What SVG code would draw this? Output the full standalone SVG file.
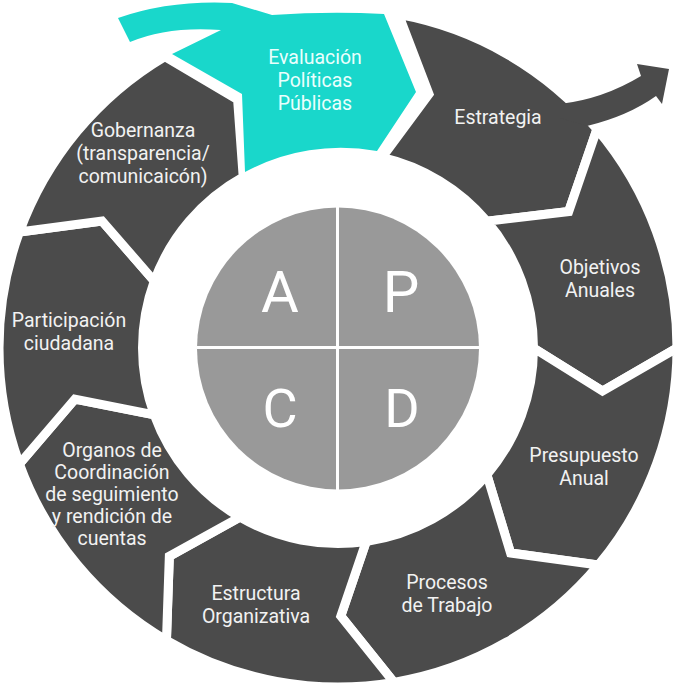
<svg xmlns="http://www.w3.org/2000/svg" width="674" height="685" viewBox="0 0 674 685">
<style>
.seg{fill:#4b4b4b;stroke:#fff;stroke-width:9;stroke-linejoin:miter}
.dark{fill:#4b4b4b}
.cyan{fill:#19d7cb}
.lbl{font-family:Roboto,"Liberation Sans",sans-serif;font-size:19.5px;fill:#f2f2f2;text-anchor:middle}
.lblc{font-family:Roboto,"Liberation Sans",sans-serif;font-size:19.5px;fill:#eafffd;text-anchor:middle}
.big{font-family:Roboto,"Liberation Sans",sans-serif;fill:#fff;text-anchor:middle}
</style>
<rect width="674" height="685" fill="#fff"/>
<g id="estrategia">
<path class="seg" d="M398.5,14.4 A339,339 0 0 1 596.93,129.19 L568.68,211.58 L486.88,221.29 A195.5,195.5 0 0 0 382,157.5 L429,94 Z"/>
<text class="lbl" x="498" y="124">Estrategia</text>
</g>
<g id="objetivos">
<path class="seg" d="M596.93,129.19 A339,339 0 0 1 677,348 L602.51,391.08 L533.5,348 A195.5,195.5 0 0 0 486.88,221.29 L568.68,211.58 Z"/>
<text class="lbl" x="600" y="274">Objetivos</text>
<text class="lbl" x="600" y="297">Anuales</text>
</g>
<g id="presupuesto">
<path class="seg" d="M677,348 A339,339 0 0 1 598.45,565 L510.57,553.05 L486.88,474.71 A195.5,195.5 0 0 0 533.5,348 L602.51,391.08 Z"/>
<text class="lbl" x="584" y="462">Presupuesto</text>
<text class="lbl" x="584" y="485">Anual</text>
</g>
<g id="procesos">
<path class="seg" d="M598.45,565 A339,339 0 0 1 393.95,682.35 L340.81,615.99 L366.22,541.45 A195.5,195.5 0 0 0 486.88,474.71 L510.57,553.05 Z"/>
<text class="lbl" x="447" y="589">Procesos</text>
<text class="lbl" x="447" y="612">de Trabajo</text>
</g>
<g id="estructura">
<path class="seg" d="M393.95,682.35 A339,339 0 0 1 166.46,640.39 L169.34,556.28 L239.95,517.14 A195.5,195.5 0 0 0 366.22,541.45 L340.81,615.99 Z"/>
<text class="lbl" x="256" y="600">Estructura</text>
<text class="lbl" x="256" y="623">Organizativa</text>
</g>
<g id="organos">
<path class="seg" d="M166.46,640.39 A339,339 0 0 1 19.45,463.94 L74.92,399.14 L154.29,414.86 A195.5,195.5 0 0 0 239.95,517.14 L169.34,556.28 Z"/>
<text class="lbl" x="112" y="457">Organos de</text>
<text class="lbl" x="112" y="479">Coordinación</text>
<text class="lbl" x="112" y="501">de seguimiento</text>
<text class="lbl" x="112" y="523">y rendición de</text>
<text class="lbl" x="112" y="545">cuentas</text>
</g>
<g id="participacion">
<path class="seg" d="M19.45,463.94 A339,339 0 0 1 19.45,232.06 L102.03,220.94 L154.29,281.14 A195.5,195.5 0 0 0 154.29,414.86 L74.92,399.14 Z"/>
<text class="lbl" x="69" y="327">Participación</text>
<text class="lbl" x="69" y="350">ciudadana</text>
</g>
<g id="gobernanza">
<path class="seg" d="M19.45,232.06 A339,339 0 0 1 164.91,56.52 L237.6,99.52 L243.22,177.01 A195.5,195.5 0 0 0 154.29,281.14 L102.03,220.94 Z"/>
<text class="lbl" x="143" y="137">Gobernanza</text>
<text class="lbl" x="143" y="160">(transparencia/</text>
<text class="lbl" x="143" y="183">comunicaicón)</text>
</g>
<g id="connectors">
<path class="dark" d="M560,104 Q603,99 641,76 L637,64 L669,69 L662,104 L656,96 Q628,116 587,126 L560,118 Z"/>
</g>
<g id="evaluacion">
<path class="cyan" d="M118,18 Q170,0 232,3 L272,15 Q330,11 384,14 L416,92 L377,151 A200,200 0 0 0 245,172 L242,94 L172,54 L221,30 Q168,26 130,42 Z"/>
<text class="lblc" x="315" y="64">Evaluación</text>
<text class="lblc" x="315" y="87">Políticas</text>
<text class="lblc" x="315" y="110">Públicas</text>
</g>
<g id="pdca">
<circle cx="338" cy="348.5" r="141" fill="#999"/>
<line x1="337.5" y1="207" x2="337.5" y2="490" stroke="#fff" stroke-width="3"/>
<line x1="197" y1="347.5" x2="479" y2="347.5" stroke="#fff" stroke-width="3"/>
<text class="big" x="280" y="312" font-size="58">A</text>
<text class="big" x="401" y="312" font-size="58">P</text>
<text class="big" x="280" y="427" font-size="54">C</text>
<text class="big" x="402" y="427" font-size="54">D</text>
</g>
</svg>
